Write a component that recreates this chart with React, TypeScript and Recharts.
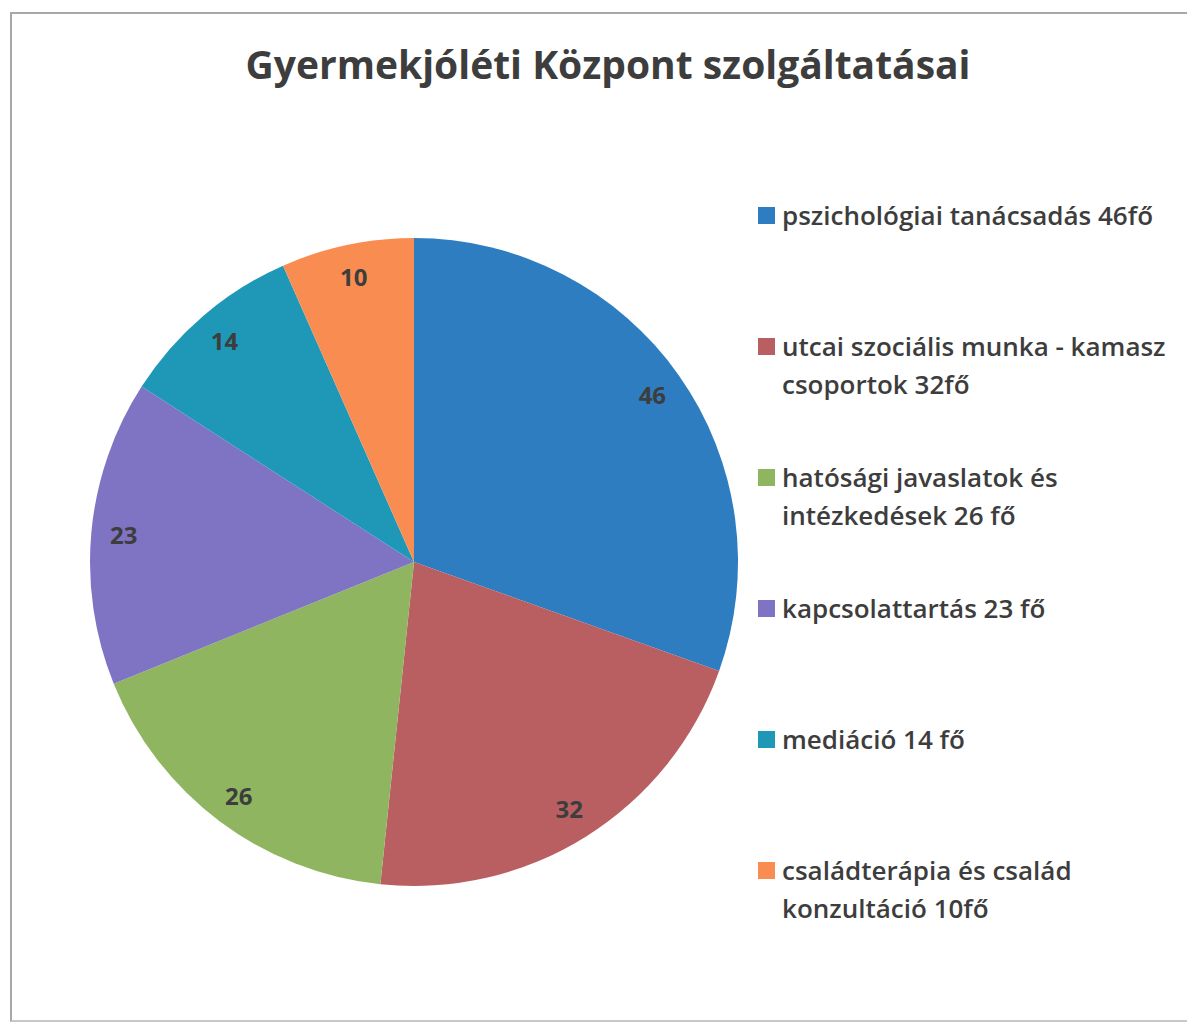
import { PieChart, Pie, Cell, Legend } from "recharts";

// Gyermekjóléti Központ – services pie (clockwise from 12 o'clock)

const categories = [
  "pszichológiai tanácsadás 46fő",
  "utcai szociális munka - kamasz csoportok 32fő",
  "hatósági javaslatok és intézkedések 26 fő",
  "kapcsolattartás 23 fő",
  "mediáció 14 fő",
  "családterápia és család konzultáció 10fő",
];
const values = [46, 32, 26, 23, 14, 10];
const colors = ["#2f7dc1", "#b95f62", "#8fb560", "#7f74c3", "#1f98b8", "#f98d51"];

const data = categories.map((name, i) => ({ name, value: values[i] }));

const FONT = "'Open Sans', 'Noto Sans', sans-serif";
const TEXT = "#3d3d3d";
const RAD = Math.PI / 180;

const renderLabel = (props: any) => {
  const { cx, cy, midAngle, outerRadius, value } = props;
  const r = outerRadius * 0.9;
  const x = cx + r * Math.cos(-midAngle * RAD);
  const y = cy + r * Math.sin(-midAngle * RAD);
  return (
    <text
      x={x}
      y={y}
      textAnchor="middle"
      dominantBaseline="central"
      fill={TEXT}
      fontFamily={FONT}
      fontWeight={700}
      fontSize={24}
    >
      {value}
    </text>
  );
};

const renderLegend = () => (
  <div style={{ fontFamily: FONT, color: TEXT, fontSize: 26, fontWeight: 600 }}>
    {data.map((d, i) => (
      <div key={d.name} style={{ position: "relative", height: 131, paddingLeft: 27 }}>
        <span
          style={{
            position: "absolute",
            left: 3,
            top: 11,
            width: 17,
            height: 17,
            background: colors[i],
          }}
        />
        <div style={{ lineHeight: "38px", width: 405 }}>{d.name}</div>
      </div>
    ))}
  </div>
);

export default function App() {
  return (
    <div
      style={{
        position: "absolute",
        left: 0,
        top: 0,
        width: 1187,
        height: 1023,
        background: "#fff",
        overflow: "hidden",
      }}
    >
      <div
        style={{
          position: "absolute",
          left: 10,
          top: 12,
          width: 1200,
          height: 1006,
          borderTop: "2px solid #a8a8a8",
          borderLeft: "2px solid #a8a8a8",
          borderBottom: "2px solid #c8c8c8",
        }}
      />
      <div
        style={{
          position: "absolute",
          left: 0,
          top: 36,
          width: 1216,
          textAlign: "center",
          fontFamily: FONT,
          fontWeight: 700,
          fontSize: 39,
          color: TEXT,
          lineHeight: "56px",
        }}
      >
        Gyermekjóléti Központ szolgáltatásai
      </div>
      <PieChart width={1187} height={1023} margin={{ top: 0, right: 0, bottom: 0, left: 0 }}>
        <Pie
          data={data}
          dataKey="value"
          nameKey="name"
          cx={414}
          cy={562}
          outerRadius={324}
          startAngle={90}
          endAngle={-270}
          stroke="none"
          label={renderLabel}
          labelLine={false}
          isAnimationActive={false}
        >
          {data.map((d, i) => (
            <Cell key={d.name} fill={colors[i]} />
          ))}
        </Pie>
        <Legend
          content={renderLegend}
          wrapperStyle={{ position: "absolute", left: 755, top: 196, width: 440 }}
        />
      </PieChart>
    </div>
  );
}
